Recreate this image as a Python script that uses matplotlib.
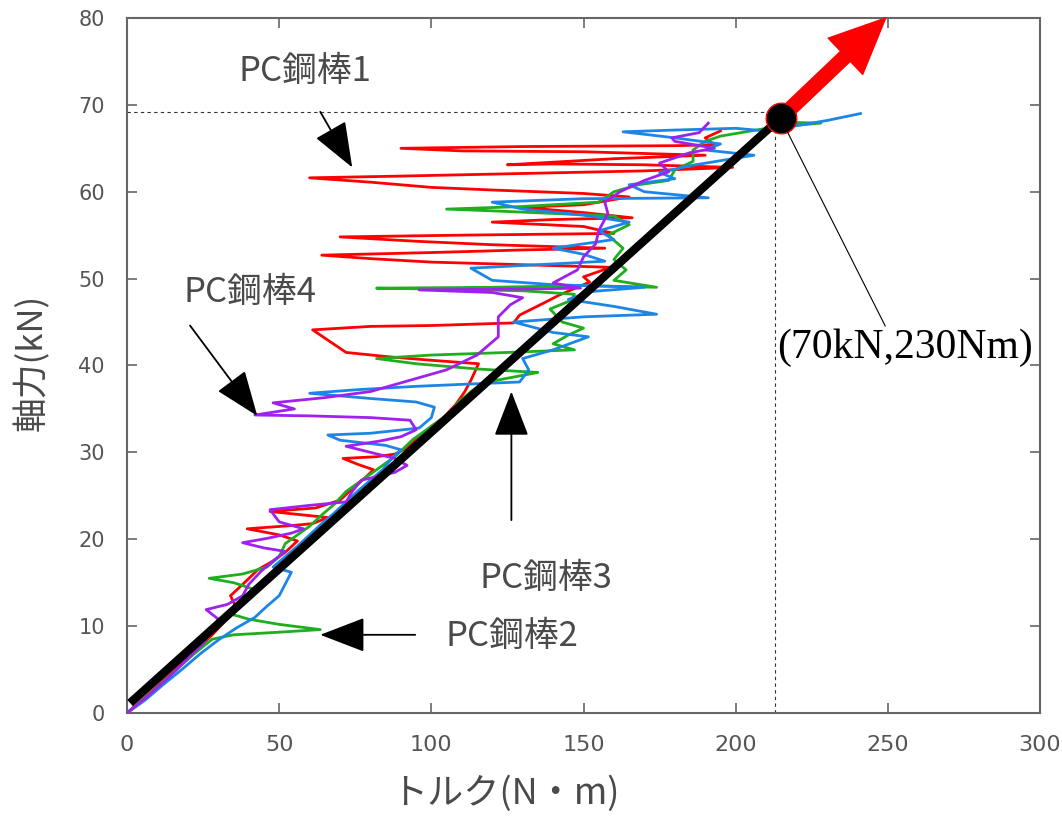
import matplotlib
matplotlib.use("Agg")
import matplotlib.pyplot as plt

plt.rcParams['font.family'] = ['Noto Sans CJK JP', 'DejaVu Sans']

# ---------------- data (torque N·m, axial force kN) ----------------
red_x = [0, 8, 15, 22, 28, 32, 36, 34, 38, 43, 48, 52, 56, 50, 39.5, 55, 61, 66, 55, 47, 62, 70, 74, 78, 81, 76, 71, 82, 88, 92,
         95, 100, 104, 108, 111, 113, 115.5, 100, 86, 72, 61, 80, 100, 127, 129, 137, 142, 152, 150, 159, 130, 100, 80, 64,
         100, 130, 157, 120, 95, 70, 110, 160, 150, 120, 140, 166, 150, 130, 150, 165, 150, 120, 100, 80, 60, 90, 130, 170,
         199, 170, 140, 125, 160, 190, 150, 110, 90, 130, 180, 193, 190, 195]
red_y = [0, 2.5, 4.8, 7, 9, 10.5, 12, 13.5, 14.8, 16.5, 17.5, 18.5, 19.8, 20.5, 21.2, 21.6, 21.8, 22.5, 22.9, 23.2, 23.6, 24.5,
         25.8, 27, 28, 28.6, 29.3, 29.5, 29.8, 30.5, 31.5, 33, 34, 35.5, 37, 38.3, 40.2, 40.6, 41, 41.5, 44.1, 44.5, 44.6, 44.9,
         45.8, 47.2, 48.1, 49.6, 50.2, 51.3, 51.6, 51.9, 52.3, 52.7, 53.0, 53.3, 53.5, 53.9, 54.3, 54.8, 55, 55.2, 56, 56.5,
         56.8, 57, 57.6, 58.2, 58.5, 59.4, 59.8, 60.2, 60.5, 61.1, 61.6, 61.8, 62.1, 62.4, 62.8, 63.1, 63.2, 63.1, 63.8, 64.2,
         64.6, 64.7, 65.0, 65.2, 65.3, 65.4, 66.2, 67]

green_x = [0, 8, 15, 22, 28, 35, 50, 63.5, 50, 40, 33, 37, 42, 35, 27, 38, 46, 50, 52, 56, 60, 64, 68, 72, 76, 80, 84, 88, 91,
           94, 98, 102, 106, 109, 113, 117, 126, 135, 115, 95, 82, 100, 125, 147, 140, 145, 150, 143, 139, 146, 147, 130, 100,
           82, 120, 150, 174, 160, 164, 160, 163, 158, 165, 160, 140, 120, 105, 130, 155, 160, 168, 178, 180, 186, 186, 190,
           195, 205, 212, 228, 215]
green_y = [0, 2.4, 4.6, 6.8, 8.5, 9.0, 9.3, 9.6, 10.2, 10.8, 11.5, 12.8, 14.2, 15.0, 15.5, 16.0, 16.8, 18, 19.5, 20.5, 21.5,
           22.8, 24, 25.5, 26.5, 27.5, 28.5, 29.5, 30.5, 31.5, 32.5, 33.5, 34.5, 35.8, 37, 38, 38.6, 39.2, 39.6, 40.2, 40.8,
           41.2, 41.5, 41.8, 42.5, 43.5, 44.3, 45.0, 46.5, 47.5, 48.2, 48.6, 48.8, 48.9, 49.0, 49.2, 49.0, 49.8, 51, 52.2,
           53.5, 55, 56.2, 57.2, 57.5, 57.8, 58.0, 58.3, 58.8, 60, 60.8, 61.3, 62.5, 63.5, 64.8, 65.8, 66.4, 67, 67.4, 67.9,
           68.0]

blue_x = [0, 6, 12, 18, 24, 30, 36, 42, 46, 50, 54, 48, 52, 56, 60, 64, 68, 72, 76, 80, 84, 87, 90, 85, 70, 66, 80, 96, 100,
          101, 95, 80, 60, 75, 95, 115, 129, 132, 130, 140, 151.6, 140, 127, 150, 174, 160, 145, 152, 170, 140, 120, 113, 135,
          157, 150, 140, 160, 155, 165, 150, 130, 120, 150, 191, 170, 165, 180, 175, 185, 206, 190, 195, 180, 163, 180, 200,
          210, 220, 230, 241]
blue_y = [0, 1.5, 3.3, 5, 6.8, 8.4, 9.8, 11, 12.3, 13.5, 16.2, 16.8, 18, 19.2, 20.5, 21.8, 23, 24.3, 25.6, 26.8, 28, 29.3,
          30.3, 30.8, 31.4, 32.0, 32.2, 32.8, 34, 35.2, 35.8, 36.2, 36.8, 37.2, 37.6, 37.9, 38.1, 39.5, 40.8, 41.8, 43.3,
          43.8, 45.0, 45.6, 45.9, 46.8, 47.6, 48.5, 49.0, 49.3, 49.8, 51.2, 51.6, 52.0, 52.8, 53.5, 54.5, 55.5, 56.5, 57.3,
          58.0, 58.8, 59.2, 59.3, 60.0, 60.8, 61.5, 62.2, 63, 64.2, 64.8, 65.5, 66.2, 66.9, 67.1, 67.3, 67.0, 67.6, 68.2,
          69.0]

purple_x = [0, 7, 14, 20, 25, 28, 30, 26, 33, 38, 40, 44, 48, 52, 45, 38, 46, 54, 58, 50, 47, 60, 72, 74, 77, 82, 88, 92, 88,
            80, 72, 83, 90, 95, 93, 80, 60, 42, 55, 48, 65, 80, 95, 105, 115, 122, 122, 126, 130, 120, 96, 130, 149, 140,
            148, 150, 154, 155, 158, 157, 162, 170, 178, 175, 185, 193, 180, 179, 188, 191]
purple_y = [0, 2, 4.2, 6.3, 8, 9.5, 10.8, 11.9, 12.5, 13.5, 14.8, 16.3, 17.5, 18.6, 19.0, 19.6, 20.1, 20.7, 21.2, 22, 23.4,
            23.9, 24.3, 25.5, 26.8, 27.2, 27.7, 28.5, 29.3, 30, 30.7, 31.3, 31.8, 32.6, 33.7, 34.0, 34.2, 34.3, 35.0, 35.7,
            36.3, 37.0, 38.5, 39.5, 41.2, 43.3, 45.6, 47, 47.8, 48.4, 48.7, 48.8, 48.9, 49.5, 51, 52.5, 54, 55.5, 57.5, 58.8,
            60.0, 61.3, 62.3, 63.3, 64.5, 65.0, 65.8, 66.2, 66.8, 67.9]

fit_x = [1, 214.8]
fit_y = [1.15, 68.5]
peak_x, peak_y = 214.8, 68.5
arrow_tip = (249.3, 80)
x_ticks = [0, 50, 100, 150, 200, 250, 300]
y_ticks = [0, 10, 20, 30, 40, 50, 60, 70, 80]
x_label = 'トルク(N・m)'
y_label = '軸力(kN)'
peak_text = '(70kN,230Nm)'
bar_labels = ['PC鋼棒1', 'PC鋼棒2', 'PC鋼棒3', 'PC鋼棒4']

# ---------------- figure ----------------
fig = plt.figure(figsize=(10.62, 8.17), dpi=100)
ax = fig.add_axes([0.1196, 0.1273, 0.8597, 0.8507])
ax.set_xlim(0, 300)
ax.set_ylim(0, 80)

lw = 2.0
ax.plot(red_x, red_y, color='#ff0000', lw=lw, zorder=2)
ax.plot(green_x, green_y, color='#1eae1e', lw=lw, zorder=2)
ax.plot(blue_x, blue_y, color='#1c86e8', lw=lw, zorder=2)
ax.plot(purple_x, purple_y, color='#a020f0', lw=lw, zorder=3)

# dotted guide lines
ax.plot([0, peak_x], [69.2, 69.2], color='#333333', lw=0.8, ls=(0, (3, 3)), zorder=1)
ax.plot([213, 213], [0, peak_y], color='#333333', lw=0.8, ls=(0, (3, 3)), zorder=1)

# fit line
ax.plot(fit_x, fit_y, color='black', lw=6, solid_capstyle='butt', zorder=4)

# red arrow
ax.annotate('', xy=arrow_tip, xytext=(peak_x, peak_y),
            arrowprops=dict(facecolor='#ff0000', edgecolor='#ff0000', width=10, headwidth=36,
                            headlength=40, shrink=0), annotation_clip=False, zorder=5)
ax.plot([peak_x], [peak_y], 'o', ms=22, mfc='black', mec='#ff0000', mew=1, zorder=6, clip_on=False)

# peak annotation
ax.annotate(peak_text, xy=(216.4, 67.3), xytext=(255.5, 42.0), ha='center', va='center',
            fontsize=30, family=['Liberation Serif', 'DejaVu Serif'], color='black',
            arrowprops=dict(arrowstyle='-', color='black', lw=0.8, shrinkA=0, shrinkB=0,
                            relpos=(0.43, 1.0)),
            annotation_clip=False, zorder=7)

# label arrows
lab_col = '#4a4a4a'
arr = dict(arrowstyle='-|>,head_length=1.3,head_width=0.5', color='black', lw=1.3,
           shrinkA=0, shrinkB=0, mutation_scale=22)
ax.text(58.6, 73.8, bar_labels[0], fontsize=25, color=lab_col, ha='center', va='center')
ax.annotate('', xy=(74, 62.8), xytext=(63.5, 69.2), arrowprops=arr)
ax.text(40.5, 48.4, bar_labels[3], fontsize=25, color=lab_col, ha='center', va='center')
ax.annotate('', xy=(42.8, 34.2), xytext=(20.7, 44.6), arrowprops=arr)
ax.text(137.5, 15.5, bar_labels[2], fontsize=25, color=lab_col, ha='center', va='center')
ax.annotate('', xy=(126.3, 37.0), xytext=(126.3, 22.2), arrowprops=arr)
ax.text(126.6, 8.75, bar_labels[1], fontsize=25, color=lab_col, ha='center', va='center')
ax.annotate('', xy=(63.5, 9.0), xytext=(94.7, 9.0), arrowprops=arr)

# axes styling
for s in ax.spines.values():
    s.set_color('#666666')
    s.set_linewidth(1.5)
ax.set_xticks(x_ticks)
ax.set_yticks(y_ticks)
ax.tick_params(direction='in', length=7, width=1.2, color='#666666', top=True, right=True,
               labelcolor='#555555')
ax.tick_params(axis='y', labelsize=15, pad=16)
ax.tick_params(axis='x', labelsize=16, pad=16)
for t in ax.get_xticklabels():
    t.set_family(['Liberation Sans Narrow', 'DejaVu Sans'])
for t in ax.get_yticklabels():
    t.set_family(['DejaVu Sans'])

ax.set_xlabel(x_label, fontsize=26, color=lab_col, labelpad=6)
ax.xaxis.set_label_coords((505 - 127) / 913, -0.09)
ax.set_ylabel(y_label, fontsize=25, color=lab_col, labelpad=8)
ax.yaxis.set_label_coords(-0.084, 0.505)

fig.savefig('out.png', dpi=100)
